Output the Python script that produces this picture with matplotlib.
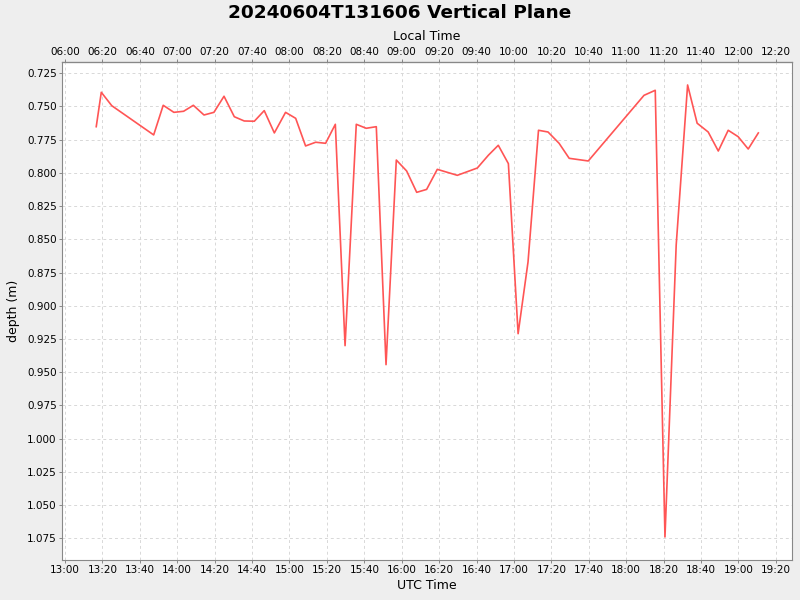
import matplotlib
matplotlib.use('Agg')
import matplotlib.pyplot as plt
from matplotlib.ticker import FuncFormatter, FixedLocator, MultipleLocator, FormatStrFormatter

# UTC time in minutes after 13:00, depth in metres
minutes = [16.7, 19.4, 25.0, 47.4, 52.5, 58.2, 63.4, 68.6, 74.3, 79.6,
           85.0, 90.5, 95.8, 101.2, 106.5, 111.9, 117.9, 123.3, 128.6, 134.0,
           139.3, 144.5, 149.7, 155.7, 161.0, 166.4, 171.6, 177.1, 182.6, 188.0,
           193.3, 199.0, 209.7, 220.4, 226.3, 231.6, 237.0, 242.2, 247.5, 253.1,
           258.2, 264.1, 269.5, 279.7, 309.5, 315.5, 320.7, 326.7, 332.8, 337.9,
           343.8, 349.2, 354.5, 359.8, 365.2, 370.6]
depth = [0.7652, 0.7393, 0.7494, 0.7714, 0.7491, 0.7544, 0.7536, 0.7491, 0.7564, 0.7544,
         0.7423, 0.7577, 0.7609, 0.7611, 0.7531, 0.7699, 0.7544, 0.7589, 0.7797, 0.7769,
         0.7777, 0.7634, 0.9300, 0.7634, 0.7664, 0.7652, 0.9443, 0.7903, 0.7985, 0.8146,
         0.8124, 0.7973, 0.8018, 0.7963, 0.7867, 0.7792, 0.7930, 0.9210, 0.8670, 0.7679,
         0.7692, 0.7777, 0.7890, 0.7910, 0.7416, 0.7378, 1.0740, 0.8542, 0.7338, 0.7626,
         0.7692, 0.7835, 0.7679, 0.7727, 0.7820, 0.7699]

utc_start_hour = 13
local_offset = -7
tick_minutes = list(range(0, 381, 20))

fig = plt.figure(figsize=(8, 6), dpi=100, facecolor='#eeeeee')
ax = fig.add_axes([0.0775, 0.0667, 0.9125, 0.83])
ax.set_facecolor('white')

ax.plot(minutes, depth, color='#ff5555', linewidth=1.2)

ax.set_xlim(-1.6, 388.6)
ax.set_ylim(1.0913, 0.7165)

def hm(offset):
    def f(v, pos):
        total = int(round(v)) + (utc_start_hour + offset) * 60
        return f'{total // 60:02d}:{total % 60:02d}'
    return f

ax.xaxis.set_major_locator(FixedLocator(tick_minutes))
ax.xaxis.set_major_formatter(FuncFormatter(hm(0)))
ax.yaxis.set_major_locator(MultipleLocator(0.025))
ax.yaxis.set_major_formatter(FormatStrFormatter('%.3f'))

ax.grid(True, color='#d8d8d8', linestyle=(0, (3, 3)), linewidth=0.7)
for s in ax.spines.values():
    s.set_color('#888888')

ax.tick_params(axis='both', labelsize=7.5, color='#888888', length=2, width=0.7, pad=1.8)
ax.set_xlabel('UTC Time', fontsize=9, labelpad=3)
ax.set_ylabel('depth (m)', fontsize=9, labelpad=5)

top = ax.secondary_xaxis('top')
top.xaxis.set_major_locator(FixedLocator(tick_minutes))
top.xaxis.set_major_formatter(FuncFormatter(hm(local_offset)))
top.tick_params(labelsize=7.5, color='#888888', length=2, width=0.7, pad=1.8)
top.set_xlabel('Local Time', fontsize=9, labelpad=5)

fig.suptitle('20240604T131606 Vertical Plane', fontsize=13.3, fontweight='bold', y=0.993)

fig.savefig('out.png', dpi=100, facecolor=fig.get_facecolor())
